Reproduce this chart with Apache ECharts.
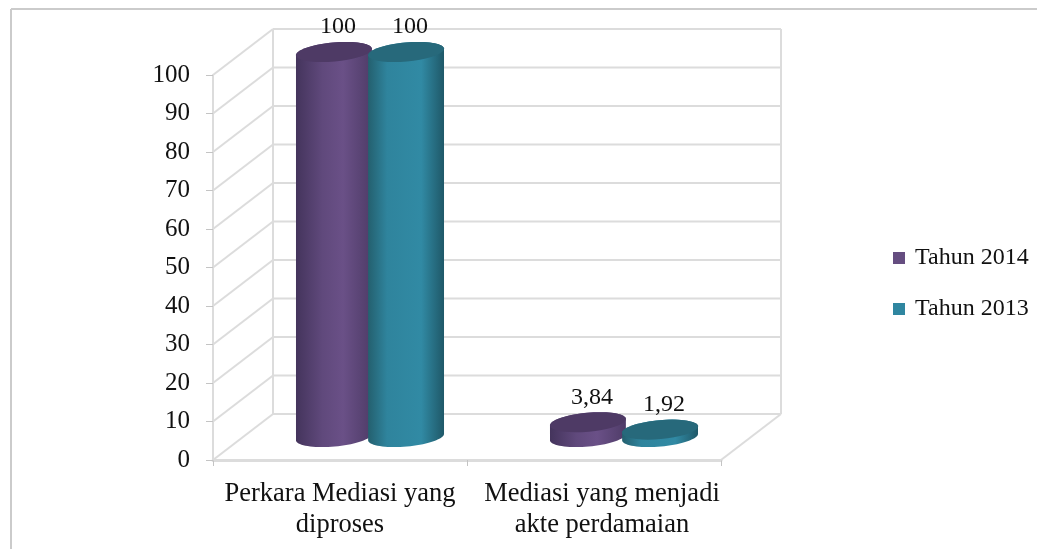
<!DOCTYPE html>
<html>
<head>
<meta charset="utf-8">
<title>Perkara Mediasi</title>
<script src="https://cdn.jsdelivr.net/npm/echarts@6/dist/echarts.min.js"></script>
<style>
  html, body { margin: 0; padding: 0; background: #fff; }
  #chart { width: 1037px; height: 549px; }
</style>
</head>
<body>
<div id="chart"></div>
<script>
const categories = ['Perkara Mediasi yang\ndiproses', 'Mediasi yang menjadi\nakte perdamaian'];
const tahun2014 = [100, 3.84];
const tahun2013 = [100, 1.92];
const valueTicks = [0, 10, 20, 30, 40, 50, 60, 70, 80, 90, 100];

const FONT = '"Liberation Serif", serif';
const WALL = '#dcdcdc';
// Receding offset of the back wall relative to the front plane
const DEPTH_X = 60;
const DEPTH_Y = -46;

// Vertical walls and floor: one diagonal and one back line per tick
function renderWall(params, api) {
  const cs = params.coordSys;
  const y = api.coord([0, api.value(0)])[1];
  const left = cs.x;
  const right = cs.x + cs.width;
  const children = [
    { type: 'line', shape: { x1: left, y1: y, x2: left + DEPTH_X, y2: y + DEPTH_Y } },
    { type: 'line', shape: { x1: left + DEPTH_X, y1: y + DEPTH_Y, x2: right + DEPTH_X, y2: y + DEPTH_Y } }
  ];
  if (api.value(0) === 0) {
    children.push({ type: 'line', shape: { x1: right, y1: y, x2: right + DEPTH_X, y2: y + DEPTH_Y } });
  }
  if (params.dataIndex === 0) {
    const top = cs.y + DEPTH_Y;
    children.push({ type: 'line', shape: { x1: left + DEPTH_X, y1: top, x2: left + DEPTH_X, y2: y + DEPTH_Y } });
    children.push({ type: 'line', shape: { x1: right + DEPTH_X, y1: top, x2: right + DEPTH_X, y2: y + DEPTH_Y } });
  }
  children.forEach(c => { c.style = { stroke: WALL, lineWidth: 2, fill: null }; });
  return { type: 'group', children };
}

function ellipsePoint(cx, cy, rx, ry, tilt, t) {
  const ex = rx * Math.cos(t);
  const ey = ry * Math.sin(t);
  return [cx + ex * Math.cos(tilt) - ey * Math.sin(tilt), cy + ex * Math.sin(tilt) + ey * Math.cos(tilt)];
}

function arcPoints(cx, cy, rx, ry, tilt, from, to) {
  const pts = [];
  const steps = 36;
  for (let i = 0; i <= steps; i++) {
    pts.push(ellipsePoint(cx, cy, rx, ry, tilt, from + (to - from) * i / steps));
  }
  return pts;
}

// Cylinder standing halfway into the floor depth, with its value label above the cap
function cylinderRenderer(side, sideStops, capColor, labelDx) {
  return function (params, api) {
    const cat = api.value(0);
    const val = api.value(1);
    const band = api.size([1, 0])[0];
    const base = api.coord([cat, 0]);
    const topPt = api.coord([cat, val]);
    const cx = base[0] + DEPTH_X / 2 + side * band * 0.142;
    const yBase = base[1] + DEPTH_Y / 2;
    const yTop = topPt[1] + DEPTH_Y / 2;
    const rx = band * 0.15;
    const ry = 9.5;
    const tilt = -0.09;
    const body = arcPoints(cx, yBase, rx, ry, tilt, 0, Math.PI)
      .concat(arcPoints(cx, yTop, rx, ry, tilt, Math.PI, 2 * Math.PI));
    return {
      type: 'group',
      children: [
        {
          type: 'polygon',
          shape: { points: body },
          style: {
            fill: { type: 'linear', x: 0, y: 0, x2: 1, y2: 0, colorStops: sideStops }
          }
        },
        {
          type: 'polygon',
          shape: { points: arcPoints(cx, yTop, rx, ry, tilt, 0, 2 * Math.PI) },
          style: { fill: capColor }
        },
        {
          type: 'text',
          style: {
            text: String(val).replace('.', ','),
            x: cx + labelDx,
            y: yTop - 25,
            align: 'center',
            verticalAlign: 'middle',
            font: '24px ' + FONT,
            fill: '#111'
          }
        }
      ]
    };
  };
}

const purpleStops = [
  { offset: 0, color: '#44345c' },
  { offset: 0.35, color: '#60497c' },
  { offset: 0.62, color: '#6a5087' },
  { offset: 1, color: '#4f3c68' }
];
const tealStops = [
  { offset: 0, color: '#24606f' },
  { offset: 0.25, color: '#2f849d' },
  { offset: 0.7, color: '#318aa4' },
  { offset: 1, color: '#1f5868' }
];

const chart = echarts.init(document.getElementById('chart'), null, { renderer: 'canvas' });
chart.setOption({
  animation: false,
  backgroundColor: '#fff',
  color: ['#654d80', '#2f86a0'],
  grid: { left: 213, top: 75, width: 508, height: 385, containLabel: false },
  legend: {
    orient: 'vertical',
    left: 888,
    top: 241,
    itemWidth: 12,
    itemHeight: 12,
    itemGap: 27,
    icon: 'rect',
    data: [
      { name: 'Tahun 2014', itemStyle: { color: '#654d80' } },
      { name: 'Tahun 2013', itemStyle: { color: '#2f86a0' } }
    ],
    textStyle: { fontFamily: FONT, fontSize: 24, color: '#111', padding: [0, 0, 0, 5] }
  },
  xAxis: {
    type: 'category',
    data: categories,
    axisLine: { lineStyle: { color: WALL, width: 3 } },
    axisTick: { show: true, alignWithLabel: false, length: 6, lineStyle: { color: '#c4c4c4', width: 1 } },
    axisLabel: {
      fontFamily: FONT,
      fontSize: 26.5,
      color: '#111',
      margin: 19,
      lineHeight: 31,
      interval: 0,
      // The second category's text sits slightly right of its band centre
      formatter: (value, index) => index === 1
        ? value.split('\n').map(line => '{shifted|' + line + '}').join('\n')
        : value,
      rich: {
        shifted: { fontFamily: FONT, fontSize: 26.5, color: '#111', lineHeight: 31, padding: [0, 0, 0, 16] }
      }
    },
    splitLine: { show: false }
  },
  yAxis: {
    type: 'value',
    min: 0,
    max: 100,
    interval: 10,
    axisLine: { show: true, lineStyle: { color: WALL, width: 2 } },
    axisTick: { show: true, length: 7, lineStyle: { color: '#c4c4c4', width: 1 } },
    axisLabel: { fontFamily: FONT, fontSize: 25, color: '#111', margin: 23 },
    splitLine: { show: false }
  },
  graphic: [
    // Frame remains along the top and left of the chart area
    { type: 'line', silent: true, shape: { x1: 11, y1: 9, x2: 1037, y2: 9 }, style: { stroke: '#cbcbcb', lineWidth: 2 } },
    { type: 'line', silent: true, shape: { x1: 11, y1: 9, x2: 11, y2: 549 }, style: { stroke: '#cbcbcb', lineWidth: 2 } }
  ],
  series: [
    {
      type: 'custom',
      name: 'walls',
      z: 1,
      silent: true,
      coordinateSystem: 'cartesian2d',
      renderItem: renderWall,
      encode: { y: 0 },
      data: valueTicks.map(v => [v])
    },
    {
      type: 'custom',
      name: 'Tahun 2014',
      z: 3,
      renderItem: cylinderRenderer(-1, purpleStops, '#4e3a65', 4),
      encode: { x: 0, y: 1 },
      data: tahun2014.map((v, i) => [i, v])
    },
    {
      type: 'custom',
      name: 'Tahun 2013',
      z: 4,
      renderItem: cylinderRenderer(1, tealStops, '#27697b', 4),
      encode: { x: 0, y: 1 },
      data: tahun2013.map((v, i) => [i, v])
    }
  ]
});
</script>
</body>
</html>
